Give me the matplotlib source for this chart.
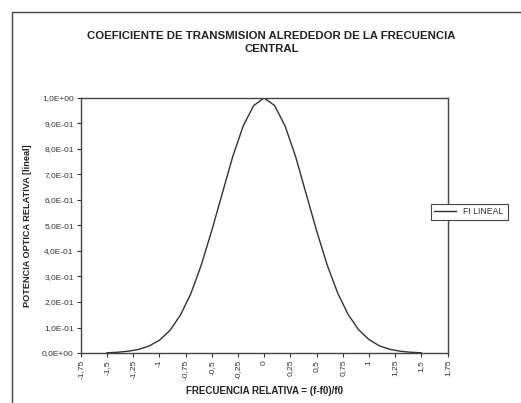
import matplotlib.pyplot as plt
import matplotlib.patches as patches

plt.rcParams['font.family'] = ['Liberation Sans', 'DejaVu Sans']

# frecuencia relativa y potencia optica relativa
frec = [-1.5, -1.4, -1.3, -1.2, -1.1, -1.0, -0.9, -0.8, -0.7, -0.6, -0.5,
        -0.4, -0.3, -0.2, -0.1, 0.0, 0.1, 0.2, 0.3, 0.4, 0.5, 0.6, 0.7,
        0.8, 0.9, 1.0, 1.1, 1.2, 1.3, 1.4, 1.5]
potencia = [0.001, 0.003, 0.007, 0.014, 0.027, 0.05, 0.088, 0.148, 0.232,
            0.345, 0.48, 0.625, 0.77, 0.89, 0.97, 1.0, 0.97, 0.89, 0.77,
            0.625, 0.48, 0.347, 0.237, 0.152, 0.092, 0.053, 0.028, 0.0145,
            0.007, 0.003, 0.001]

xticks = [-1.75, -1.5, -1.25, -1, -0.75, -0.5, -0.25, 0, 0.25, 0.5, 0.75,
          1, 1.25, 1.5, 1.75]
xlabels = ['-1,75', '-1,5', '-1,25', '-1', '-0,75', '-0,5', '-0,25', '0',
           '0,25', '0,5', '0,75', '1', '1,25', '1,5', '1,75']
yticks = [0.0, 0.1, 0.2, 0.3, 0.4, 0.5, 0.6, 0.7, 0.8, 0.9, 1.0]
ylabels = ['0,0E+00', '1,0E-01', '2,0E-01', '3,0E-01', '4,0E-01', '5,0E-01',
           '6,0E-01', '7,0E-01', '8,0E-01', '9,0E-01', '1,0E+00']

fig = plt.figure(figsize=(5.21, 4.03), dpi=100)
ax = fig.add_axes([0.155, 0.124, 0.704, 0.633])

# marco exterior del grafico
fig.patches.append(patches.Rectangle((0.023, -0.02), 1.0, 0.99,
                                     transform=fig.transFigure,
                                     fill=False, edgecolor='#444444',
                                     linewidth=1.0))

line, = ax.plot(frec, potencia, color='#333333', linewidth=1.0,
                label='FI LINEAL')

ax.set_xlim(-1.75, 1.75)
ax.set_ylim(0, 1.0)
ax.set_xticks(xticks)
ax.set_xticklabels(xlabels, rotation=90, fontsize=6, color='#333333')
ax.set_yticks(yticks)
ax.set_yticklabels(ylabels, fontsize=6, color='#333333')
ax.tick_params(direction='out', length=3, width=0.8, colors='#333333',
               pad=2)
for s in ax.spines.values():
    s.set_color('#444444')
    s.set_linewidth(1.0)

ax.set_title('COEFICIENTE DE TRANSMISION ALREDEDOR DE LA FRECUENCIA\nCENTRAL',
             fontsize=8.2, fontweight='bold', color='#222222', pad=33,
             linespacing=1.35, x=0.52)
ax.set_xlabel('FRECUENCIA RELATIVA = (f-f0)/f0', fontsize=7,
              fontweight='bold', color='#222222', labelpad=5)
ax.set_ylabel('POTENCIA OPTICA RELATIVA [lineal]', fontsize=6.6,
              fontweight='bold', color='#222222', labelpad=7)

leg = fig.legend(handles=[line], loc='center left',
                 bbox_to_anchor=(0.818, 0.474), fontsize=6.3,
                 frameon=True, fancybox=False, handlelength=2.5,
                 borderpad=0.45, labelcolor='#333333', framealpha=1)
leg.get_frame().set_edgecolor('#444444')
leg.get_frame().set_linewidth(0.8)

fig.savefig('out.png', dpi=100)
